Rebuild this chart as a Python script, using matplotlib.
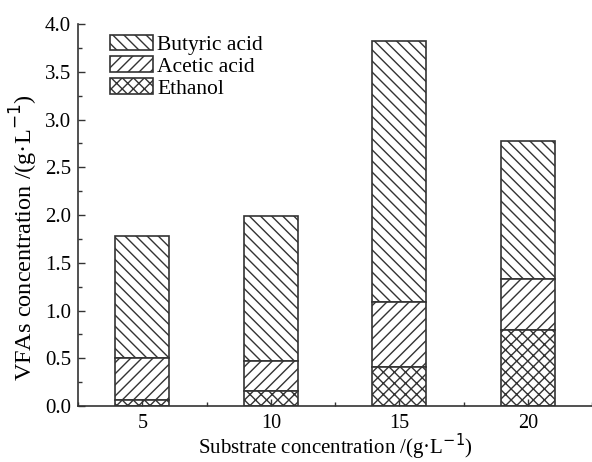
"""Stacked VFA composition by substrate concentration."""

import matplotlib

matplotlib.use("Agg")

import matplotlib.pyplot as plt  # noqa: E402
from matplotlib.ticker import MultipleLocator  # noqa: E402

substrate = [5, 10, 15, 20]
ethanol = [0.06, 0.16, 0.41, 0.80]
acetic = [0.44, 0.31, 0.68, 0.53]
butyric = [1.28, 1.52, 2.73, 1.45]

plt.rcParams["font.family"] = ["Liberation Serif", "DejaVu Serif"]
plt.rcParams["hatch.linewidth"] = 1.0
plt.rcParams["hatch.color"] = "#333333"

fig = plt.figure(figsize=(5.92, 4.62), dpi=100)
ax = fig.add_axes([0.132, 0.121, 0.868, 0.827])

edge = "#333333"
bottom_acetic = ethanol
bottom_butyric = [e + a for e, a in zip(ethanol, acetic)]

ax.bar(substrate, butyric, width=2.1, bottom=bottom_butyric, color="white",
       edgecolor=edge, hatch="\\\\\\", linewidth=1.2, label="Butyric acid")
ax.bar(substrate, acetic, width=2.1, bottom=bottom_acetic, color="white",
       edgecolor=edge, hatch="///", linewidth=1.2, label="Acetic acid")
ax.bar(substrate, ethanol, width=2.1, color="white",
       edgecolor=edge, hatch="xxx", linewidth=1.2, label="Ethanol")

ax.set_xlim(2.5, 22.5)
ax.set_ylim(0, 4.0)
ax.set_xticks(substrate)
ax.xaxis.set_minor_locator(MultipleLocator(2.5))
ax.yaxis.set_major_locator(MultipleLocator(0.5))
ax.yaxis.set_minor_locator(MultipleLocator(0.25))
ax.yaxis.set_major_formatter(plt.FormatStrFormatter("%.1f"))

ax.spines["top"].set_visible(False)
ax.spines["right"].set_visible(False)
for side in ("left", "bottom"):
    ax.spines[side].set_color(edge)
    ax.spines[side].set_linewidth(1.2)

ax.tick_params(which="both", direction="in", color=edge, labelsize=15)
ax.tick_params(which="major", length=5, width=1.0)
ax.tick_params(which="minor", length=3, width=1.0)
ax.tick_params(axis="x", pad=6, labelsize=14.5)
ax.tick_params(axis="y", pad=5)

ax.set_xlabel("Substrate concentration /(g·L$^{-1}$)", fontsize=15)
ax.set_ylabel("VFAs concentration /(g·L$^{-1}$)", fontsize=17.5)
ax.xaxis.set_label_coords(0.5, -0.068)
ax.yaxis.set_label_coords(-0.075, 0.44)

ax.legend(loc="upper left", bbox_to_anchor=(0.045, 0.995), frameon=False,
          fontsize=15.5, handlelength=2.0, handleheight=0.75,
          handletextpad=0.2, labelspacing=0.07, borderaxespad=0.0)

fig.savefig("out.png", dpi=100)
